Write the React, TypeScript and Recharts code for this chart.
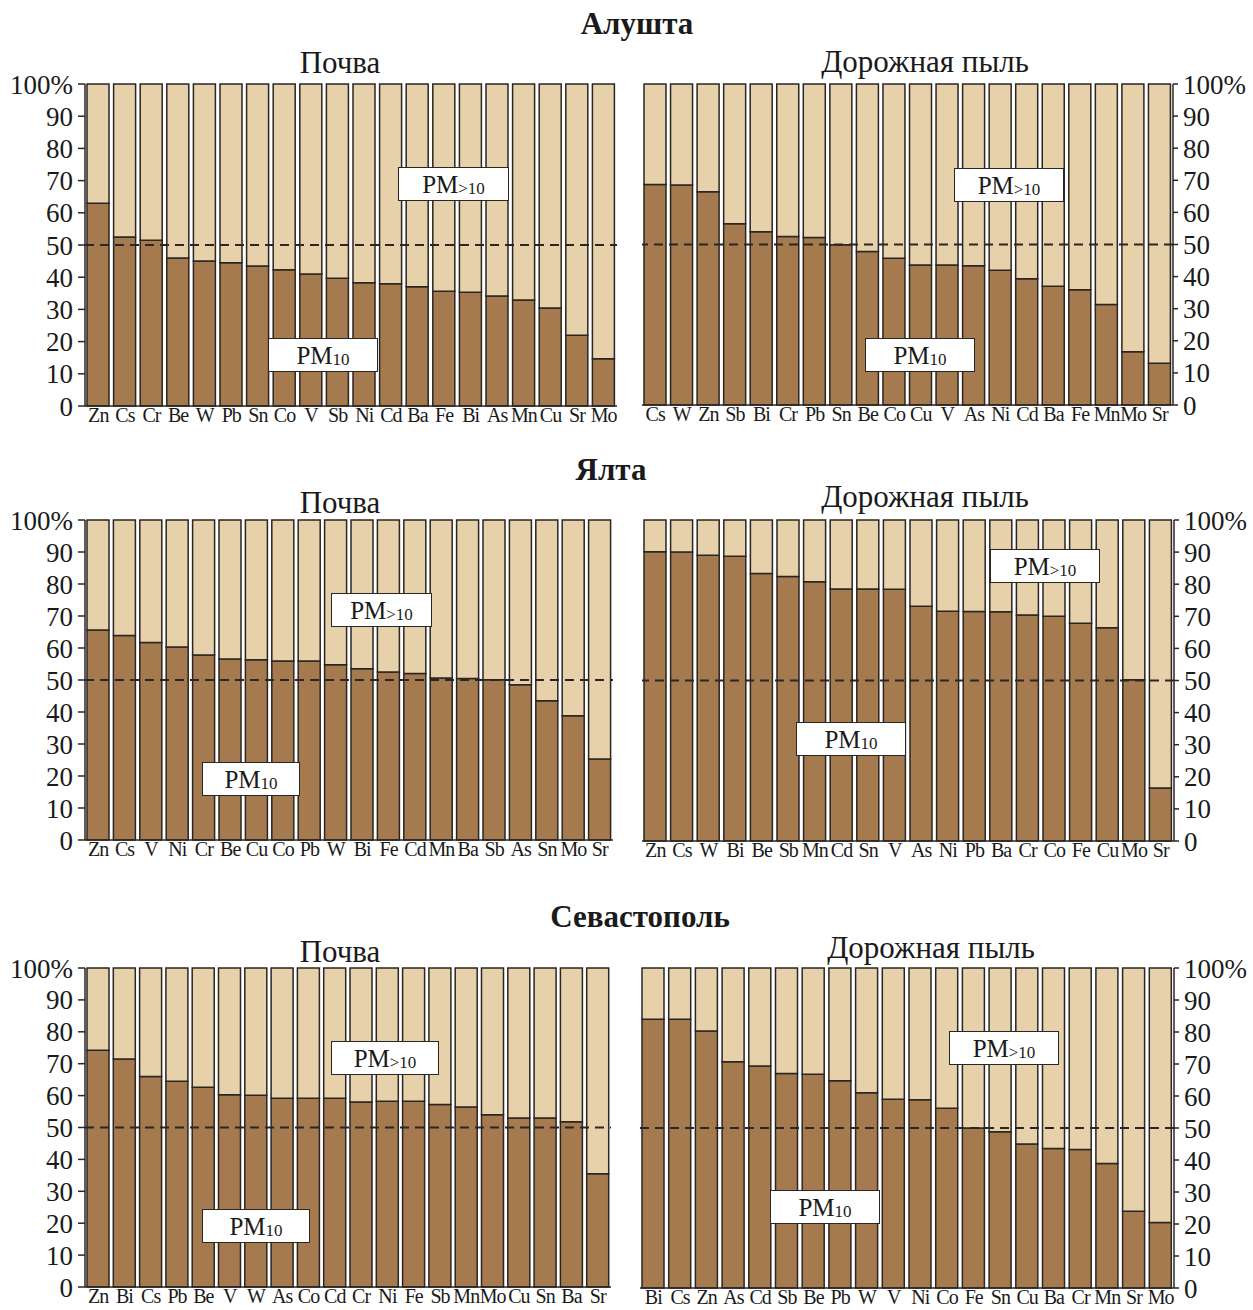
import { BarChart, Bar, XAxis, YAxis, ReferenceLine } from 'recharts';

const BROWN = '#a67a4f';
const BEIGE = '#e6d1aa';
const INK = '#2b2622';
const TEXT = '#1a1a1a';
const SERIF = '"Liberation Serif", "Times New Roman", serif';

const Y_TICKS = [0, 10, 20, 30, 40, 50, 60, 70, 80, 90, 100];

// Share of PM10 fraction (%) per element; the rest of each bar is PM>10
const ALUSHTA_SOIL_EL = ['Zn', 'Cs', 'Cr', 'Be', 'W', 'Pb', 'Sn', 'Co', 'V', 'Sb', 'Ni', 'Cd', 'Ba', 'Fe', 'Bi', 'As', 'Mn', 'Cu', 'Sr', 'Mo'];
const ALUSHTA_SOIL_PM10 = [63, 52.5, 51.5, 46, 45, 44.5, 43.5, 42.3, 41, 39.7, 38.3, 38, 37, 35.6, 35.3, 34.2, 32.9, 30.4, 22, 14.7];

const ALUSHTA_DUST_EL = ['Cs', 'W', 'Zn', 'Sb', 'Bi', 'Cr', 'Pb', 'Sn', 'Be', 'Co', 'Cu', 'V', 'As', 'Ni', 'Cd', 'Ba', 'Fe', 'Mn', 'Mo', 'Sr'];
const ALUSHTA_DUST_PM10 = [68.7, 68.5, 66.4, 56.5, 54, 52.5, 52.2, 49.9, 47.8, 45.7, 43.6, 43.6, 43.4, 42, 39.3, 37, 35.9, 31.3, 16.6, 13];

const YALTA_SOIL_EL = ['Zn', 'Cs', 'V', 'Ni', 'Cr', 'Be', 'Cu', 'Co', 'Pb', 'W', 'Bi', 'Fe', 'Cd', 'Mn', 'Ba', 'Sb', 'As', 'Sn', 'Mo', 'Sr'];
const YALTA_SOIL_PM10 = [65.6, 63.9, 61.7, 60.3, 57.8, 56.6, 56.3, 55.9, 55.9, 54.8, 53.5, 52.5, 52, 50.6, 50.5, 50.1, 48.5, 43.5, 38.8, 25.3];

const YALTA_DUST_EL = ['Zn', 'Cs', 'W', 'Bi', 'Be', 'Sb', 'Mn', 'Cd', 'Sn', 'V', 'As', 'Ni', 'Pb', 'Ba', 'Cr', 'Co', 'Fe', 'Cu', 'Mo', 'Sr'];
const YALTA_DUST_PM10 = [90.1, 90, 89, 88.7, 83.3, 82.4, 80.8, 78.5, 78.5, 78.4, 73.1, 71.6, 71.5, 71.4, 70.4, 70, 67.8, 66.4, 50.2, 16.5];

const SEVAST_SOIL_EL = ['Zn', 'Bi', 'Cs', 'Pb', 'Be', 'V', 'W', 'As', 'Co', 'Cd', 'Cr', 'Ni', 'Fe', 'Sb', 'Mn', 'Mo', 'Cu', 'Sn', 'Ba', 'Sr'];
const SEVAST_SOIL_PM10 = [74.2, 71.5, 66, 64.5, 62.6, 60.3, 60.1, 59.2, 59.2, 59.2, 58, 58.2, 58.2, 57.2, 56.4, 54, 53, 53, 51.8, 35.5];

const SEVAST_DUST_EL = ['Bi', 'Cs', 'Zn', 'As', 'Cd', 'Sb', 'Be', 'Pb', 'W', 'V', 'Ni', 'Co', 'Fe', 'Sn', 'Cu', 'Ba', 'Cr', 'Mn', 'Sr', 'Mo'];
const SEVAST_DUST_PM10 = [84, 84, 80.3, 70.7, 69.4, 67, 66.8, 64.8, 61, 59, 58.8, 56.2, 50, 48.8, 45, 43.6, 43.3, 38.9, 24, 20.5];

type Frame = { left: number; right: number; top: number; bottom: number; side: 'left' | 'right' };

function Title({ text, x, y, size = 31, bold = false }: { text: string; x: number; y: number; size?: number; bold?: boolean }) {
  return (
    <div
      style={{
        position: 'absolute', left: x - 200, top: y - size / 2 - 1, width: 400,
        textAlign: 'center', fontFamily: SERIF, fontSize: size, lineHeight: 1,
        fontWeight: bold ? 700 : 400, color: TEXT, whiteSpace: 'nowrap',
      }}
    >
      {text}
    </div>
  );
}

function LabelBox({ x, y, w, sub }: { x: number; y: number; w: number; sub: string }) {
  return (
    <div
      style={{
        position: 'absolute', left: x, top: y, width: w, height: 34, boxSizing: 'border-box',
        border: `1.5px solid ${INK}`, background: '#fff', display: 'flex',
        alignItems: 'center', justifyContent: 'center', fontFamily: SERIF, color: TEXT,
      }}
    >
      <span style={{ fontSize: 25, lineHeight: 1 }}>PM</span>
      <span style={{ fontSize: 17, lineHeight: 1, position: 'relative', top: 4 }}>{sub}</span>
    </div>
  );
}

function Panel({ frame, elements, pm10 }: { frame: Frame; elements: string[]; pm10: number[] }) {
  const rows = elements.map((el, i) => ({ el, pm10: pm10[i], coarse: 100 - pm10[i] }));
  const isLeft = frame.side === 'left';
  const mTop = 20;
  const xh = 32;
  const pad = 12;
  const yw = isLeft ? frame.left : 80;
  const chartLeft = isLeft ? 0 : frame.left - pad;
  const width = isLeft ? frame.right + pad : pad + (frame.right - frame.left) + yw;
  const height = mTop + (frame.bottom - frame.top) + xh;
  const line = { stroke: INK, strokeWidth: 1.5 };

  return (
    <div style={{ position: 'absolute', left: chartLeft, top: frame.top - mTop }}>
      <BarChart
        width={width}
        height={height}
        data={rows}
        margin={{ top: mTop, right: isLeft ? pad : 0, bottom: 0, left: isLeft ? 0 : pad }}
        barSize={22}
      >
        <XAxis
          dataKey="el"
          interval={0}
          tickLine={false}
          tickSize={0}
          tickMargin={2}
          height={xh}
          axisLine={line}
          tick={{ fontSize: 20, fill: TEXT, fontFamily: SERIF, letterSpacing: -0.9 }}
        />
        <YAxis
          orientation={isLeft ? 'left' : 'right'}
          type="number"
          domain={[0, 100]}
          ticks={Y_TICKS}
          interval={0}
          tickFormatter={(v: number) => (v === 100 ? '100%' : String(v))}
          width={yw}
          tickSize={isLeft ? 7 : 5}
          tickMargin={5}
          axisLine={line}
          tickLine={line}
          tick={{ fontSize: 27, fill: TEXT, fontFamily: SERIF }}
        />
        <Bar dataKey="pm10" stackId="a" fill={BROWN} stroke={INK} strokeWidth={1.5} isAnimationActive={false} />
        <Bar dataKey="coarse" stackId="a" fill={BEIGE} stroke={INK} strokeWidth={1.5} isAnimationActive={false} />
        <ReferenceLine y={50} stroke={INK} strokeDasharray="9 6" strokeWidth={1.8} />
      </BarChart>
    </div>
  );
}

export default function App() {
  return (
    <div style={{ position: 'absolute', left: 0, top: 0, width: 1253, height: 1310, background: '#fff', overflow: 'hidden' }}>
      <Title text="Алушта" x={637} y={24} bold />
      <Title text="Почва" x={340} y={63} />
      <Title text="Дорожная пыль" x={925} y={62} />
      <Panel frame={{ left: 85, right: 617, top: 84, bottom: 406, side: 'left' }} elements={ALUSHTA_SOIL_EL} pm10={ALUSHTA_SOIL_PM10} />
      <Panel frame={{ left: 642, right: 1173, top: 84, bottom: 405, side: 'right' }} elements={ALUSHTA_DUST_EL} pm10={ALUSHTA_DUST_PM10} />
      <LabelBox x={398} y={167} w={111} sub=">10" />
      <LabelBox x={268} y={338} w={110} sub="10" />
      <LabelBox x={954} y={168} w={110} sub=">10" />
      <LabelBox x={865} y={338} w={110} sub="10" />

      <Title text="Ялта" x={611} y={470} bold />
      <Title text="Почва" x={340} y={503} />
      <Title text="Дорожная пыль" x={925} y={497} />
      <Panel frame={{ left: 85, right: 613, top: 520, bottom: 840, side: 'left' }} elements={YALTA_SOIL_EL} pm10={YALTA_SOIL_PM10} />
      <Panel frame={{ left: 642, right: 1174, top: 520, bottom: 841, side: 'right' }} elements={YALTA_DUST_EL} pm10={YALTA_DUST_PM10} />
      <LabelBox x={331} y={593} w={101} sub=">10" />
      <LabelBox x={202} y={762} w={98} sub="10" />
      <LabelBox x={990} y={549} w={110} sub=">10" />
      <LabelBox x={796} y={722} w={110} sub="10" />

      <Title text="Севастополь" x={640} y={917} bold />
      <Title text="Почва" x={340} y={952} />
      <Title text="Дорожная пыль" x={931} y={948} />
      <Panel frame={{ left: 85, right: 611, top: 968, bottom: 1287, side: 'left' }} elements={SEVAST_SOIL_EL} pm10={SEVAST_SOIL_PM10} />
      <Panel frame={{ left: 640, right: 1174, top: 968, bottom: 1288, side: 'right' }} elements={SEVAST_DUST_EL} pm10={SEVAST_DUST_PM10} />
      <LabelBox x={331} y={1041} w={108} sub=">10" />
      <LabelBox x={202} y={1209} w={108} sub="10" />
      <LabelBox x={949} y={1031} w={110} sub=">10" />
      <LabelBox x={770} y={1190} w={110} sub="10" />
    </div>
  );
}
